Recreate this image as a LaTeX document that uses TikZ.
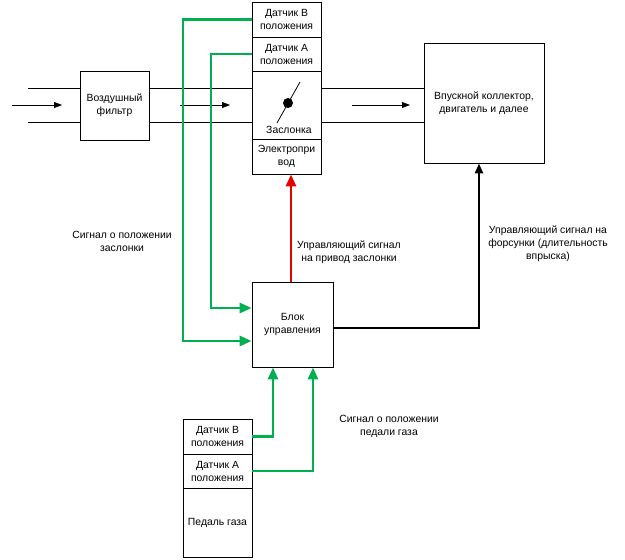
\documentclass[tikz,border=0pt]{standalone}
\usepackage{fontspec}
\setmainfont{Liberation Sans}
\usetikzlibrary{arrows.meta}
\definecolor{sgreen}{RGB}{0,176,80}
\definecolor{sred}{RGB}{230,0,0}
\begin{document}
\begin{tikzpicture}[x=1pt,y=-1pt,
  every node/.style={font=\fontsize{10.4}{13}\selectfont},
  blk/.style={draw,line width=0.8pt,inner sep=0pt,align=center},
  lbl/.style={align=center,inner sep=0pt},
  pipe/.style={line width=0.8pt},
  flow/.style={line width=0.8pt,-{Triangle[length=8pt,width=6pt]}},
  gsig/.style={draw=sgreen,line width=2.8pt,-{Triangle[length=12pt,width=10pt]},color=sgreen},
  rsig/.style={draw=sred,line width=2.8pt,-{Triangle[length=12pt,width=10pt]},color=sred},
  ksig/.style={line width=2.8pt,-{Triangle[length=10pt,width=8pt]}}]
\useasboundingbox (0,0) rectangle (625,560);
% throttle stack
\node[blk,minimum width=69pt,minimum height=35pt] (tsB) at (286.5,19.5) {Датчик B\\положения};
\node[blk,minimum width=69pt,minimum height=34pt] (tsA) at (286.5,54) {Датчик A\\положения};
\node[blk,minimum width=69pt,minimum height=68pt] (tval) at (286.5,105) {};
\node[blk,minimum width=69pt,minimum height=35pt] (tmot) at (286.5,156.5) {Электропри\\вод};
\node[lbl] (tlab) at (289,130) {Заслонка};
\coordinate (vA) at (277,123);
\coordinate (vB) at (300,82);
\draw[line width=0.8pt] (vA) -- (vB);
\fill (288,103) circle (5pt);
% filter and manifold
\node[blk,minimum width=69pt,minimum height=69pt] (filt) at (114.5,105.5) {Воздушный\\фильтр};
\node[blk,minimum width=120pt,minimum height=120pt] (man) at (484,103) {Впускной коллектор,\\двигатель и далее};
% control block
\node[blk,minimum width=81pt,minimum height=85pt] (ecu) at (292.5,324.5) {Блок\\управления};
% pedal stack
\node[blk,minimum width=69pt,minimum height=35pt] (pB) at (217.5,436.5) {Датчик B\\положения};
\node[blk,minimum width=69pt,minimum height=34pt] (pA) at (217.5,471) {Датчик A\\положения};
\node[blk,minimum width=69pt,minimum height=69pt] (ped) at (217.5,522.5) {Педаль газа};
% pipes
\coordinate (i1) at (28,88);
\coordinate (i2) at (28,122);
\draw[pipe] (i1) -- (i1 -| filt.west);
\draw[pipe] (i2) -- (i2 -| filt.west);
\draw[pipe] (filt.east |- i1) -- (i1 -| tval.west);
\draw[pipe] (filt.east |- i2) -- (i2 -| tval.west);
\draw[pipe] (tval.east |- i1) -- (i1 -| man.west);
\draw[pipe] (tval.east |- i2) -- (i2 -| man.west);
% flow arrows
\coordinate (f1a) at (12,105); \coordinate (f1b) at (62,105);
\coordinate (f2a) at (180,105); \coordinate (f2b) at (230,105);
\coordinate (f3a) at (352,105); \coordinate (f3b) at (410,105);
\draw[flow] (f1a) -- (f1b);
\draw[flow] (f2a) -- (f2b);
\draw[flow] (f3a) -- (f3b);
% green throttle sensor signals
\coordinate (g1) at (183,341);
\coordinate (g2) at (211,308);
\draw[gsig] (tsB.west) -| (g1) -- (g1 -| ecu.west);
\draw[gsig] (tsA.west) -| (g2) -- (g2 -| ecu.west);
% red
\coordinate (r1) at (291,0);
\draw[rsig] (ecu.north -| r1) -- (tmot.south -| r1);
% black
\coordinate (k1) at (479,328);
\draw[ksig] (ecu.east |- k1) -| (man.south -| k1);
% pedal sensors
\coordinate (p1) at (273,0);
\coordinate (p2) at (313,0);
\draw[gsig] (pB.east) -| (ecu.south -| p1);
\draw[gsig] (pA.east) -| (ecu.south -| p2);
% labels
\node[lbl] (l1) at (122,241.5) {Сигнал о положении\\заслонки};
\node[lbl] (l2) at (349,252) {Управляющий сигнал\\на привод заслонки};
\node[lbl] (l3) at (548,244) {Управляющий сигнал на\\форсунки (длительность\\впрыска)};
\node[lbl] (l4) at (389,426.5) {Сигнал о положении\\педали газа};
\end{tikzpicture}
\end{document}
